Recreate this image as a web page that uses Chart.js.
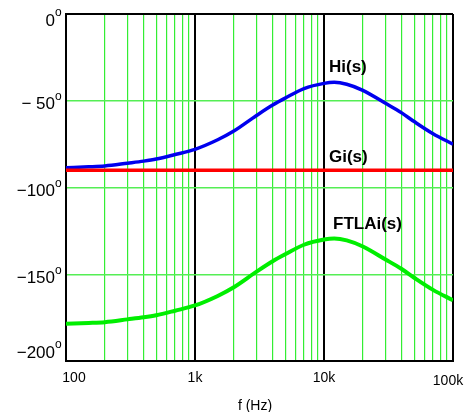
<!DOCTYPE html>
<html>
<head>
<meta charset="utf-8">
<script src="https://cdn.jsdelivr.net/npm/chart.js@4.4.1/dist/chart.umd.min.js"></script>
<style>
html, body { margin: 0; padding: 0; background: #fff; overflow: hidden; }
#wrap { width: 470px; height: 412px; position: relative; }
</style>
</head>
<body>
<div id="wrap"><canvas id="phaseChart" width="470" height="412"></canvas></div>
<script>
// frequencies (Hz) and phase (degrees)
const freqs = [100, 150, 200, 300, 400, 500, 700, 1000, 1500, 2000, 3000, 4000, 5000, 7000, 10000, 12000, 15000, 20000, 30000, 40000, 50000, 70000, 100000]
const hiPhase = [-88.6, -88.1, -87.6, -86, -84.8, -83.6, -81, -78, -72.5, -67.5, -58.5, -52.5, -48.5, -43, -40, -39.4, -40.5, -44, -51.5, -57, -62, -69, -75]
const giPhase = [-90, -90, -90, -90, -90, -90, -90, -90, -90, -90, -90, -90, -90, -90, -90, -90, -90, -90, -90, -90, -90, -90, -90]
const ftlaPhase = [-178.6, -178.1, -177.6, -176, -174.8, -173.6, -171, -168, -162.5, -157.5, -148.5, -142.5, -138.5, -133, -130, -129.4, -130.5, -134, -141.5, -147, -152, -159, -165]

const xTickVals = [100, 1000, 10000, 100000]
const xTickLabels = ['100', '1k', '10k', '100k']
const xMinorVals = [200, 300, 400, 500, 600, 700, 800, 900, 2000, 3000, 4000, 5000, 6000, 7000, 8000, 9000, 20000, 30000, 40000, 50000, 60000, 70000, 80000, 90000]
const yTickVals = [0, -50, -100, -150, -200]
const yTickLabels = ['0', '\u2212 50', '\u2212100', '\u2212150', '\u2212200']
const seriesNames = ['Hi(s)', 'Gi(s)', 'FTLAi(s)']

const FONT = '"Liberation Sans", Arial, sans-serif'

function pts(ys) {
  return freqs.map((f, i) => ({ x: f, y: ys[i] }))
}

// text labels, tick labels and axis title
const labelPlugin = {
  id: 'labels',
  afterDraw(chart) {
    const ctx = chart.ctx
    const xs = chart.scales.x
    const ys = chart.scales.y
    const area = chart.chartArea
    ctx.save()
    ctx.fillStyle = '#000'

    // y tick labels with superscript degree
    yTickVals.forEach((v, i) => {
      let y = ys.getPixelForValue(v) + 4
      y = Math.max(area.top + 7, Math.min(area.bottom - 8, y))
      ctx.font = '17px ' + FONT
      ctx.textAlign = 'right'
      ctx.textBaseline = 'middle'
      ctx.fillText(yTickLabels[i], 55, y)
      ctx.font = '12px ' + FONT
      ctx.textAlign = 'left'
      ctx.fillText('o', 55, y - 8)
    })

    // x tick labels
    ctx.font = '14px ' + FONT
    ctx.textAlign = 'center'
    ctx.textBaseline = 'middle'
    xTickVals.forEach((v, i) => {
      let x = xs.getPixelForValue(v)
      x = Math.max(area.left + 8, Math.min(area.right - 5, x))
      const y = i === xTickVals.length - 1 ? 381 : 378
      ctx.fillText(xTickLabels[i], x, y)
    })

    ctx.font = '14px ' + FONT
    ctx.fillText('f (Hz)', 255, 406)

    // series names
    ctx.font = 'bold 17px ' + FONT
    ctx.textAlign = 'left'
    const lx = xs.getPixelForValue(10000)
    ctx.fillText(seriesNames[0], lx + 5, ys.getPixelForValue(-30.5))
    ctx.fillText(seriesNames[1], lx + 5, ys.getPixelForValue(-82.5))
    ctx.fillText(seriesNames[2], lx + 9, ys.getPixelForValue(-121.5))
    ctx.restore()
  }
}

new Chart(document.getElementById('phaseChart'), {
  type: 'line',
  data: {
    datasets: [
      { label: seriesNames[1], data: pts(giPhase), borderColor: '#ff0000', borderWidth: 3.5 },
      { label: seriesNames[0], data: pts(hiPhase), borderColor: '#0000ee', borderWidth: 3.5 },
      { label: seriesNames[2], data: pts(ftlaPhase), borderColor: '#00ee00', borderWidth: 4 }
    ]
  },
  options: {
    responsive: false,
    animation: false,
    devicePixelRatio: 1,
    layout: { padding: { left: 66, right: 17, top: 14, bottom: 51 } },
    elements: {
      point: { radius: 0 },
      line: { cubicInterpolationMode: 'monotone', fill: false }
    },
    plugins: {
      legend: { display: false },
      tooltip: { enabled: false }
    },
    scales: {
      x: {
        type: 'logarithmic',
        min: 100,
        max: 100000,
        afterBuildTicks: (scale) => {
          scale.ticks = xTickVals.concat(xMinorVals).sort((a, b) => a - b).map(v => ({ value: v }))
        },
        ticks: { display: false },
        grid: {
          drawTicks: false,
          color: (c) => xTickVals.includes(c.tick.value) ? '#000000' : '#33ee33',
          lineWidth: (c) => xTickVals.includes(c.tick.value) ? 2 : 1.2
        },
        border: { color: '#000', width: 2 }
      },
      y: {
        type: 'linear',
        min: -200,
        max: 0,
        afterBuildTicks: (scale) => {
          scale.ticks = yTickVals.map(v => ({ value: v }))
        },
        ticks: { display: false },
        grid: {
          drawTicks: false,
          color: (c) => (c.tick.value === 0 || c.tick.value === -200) ? '#000000' : '#55ee55',
          lineWidth: (c) => (c.tick.value === 0 || c.tick.value === -200) ? 2 : 1.5
        },
        border: { color: '#000', width: 2 }
      }
    }
  },
  plugins: [labelPlugin]
})
</script>
</body>
</html>
